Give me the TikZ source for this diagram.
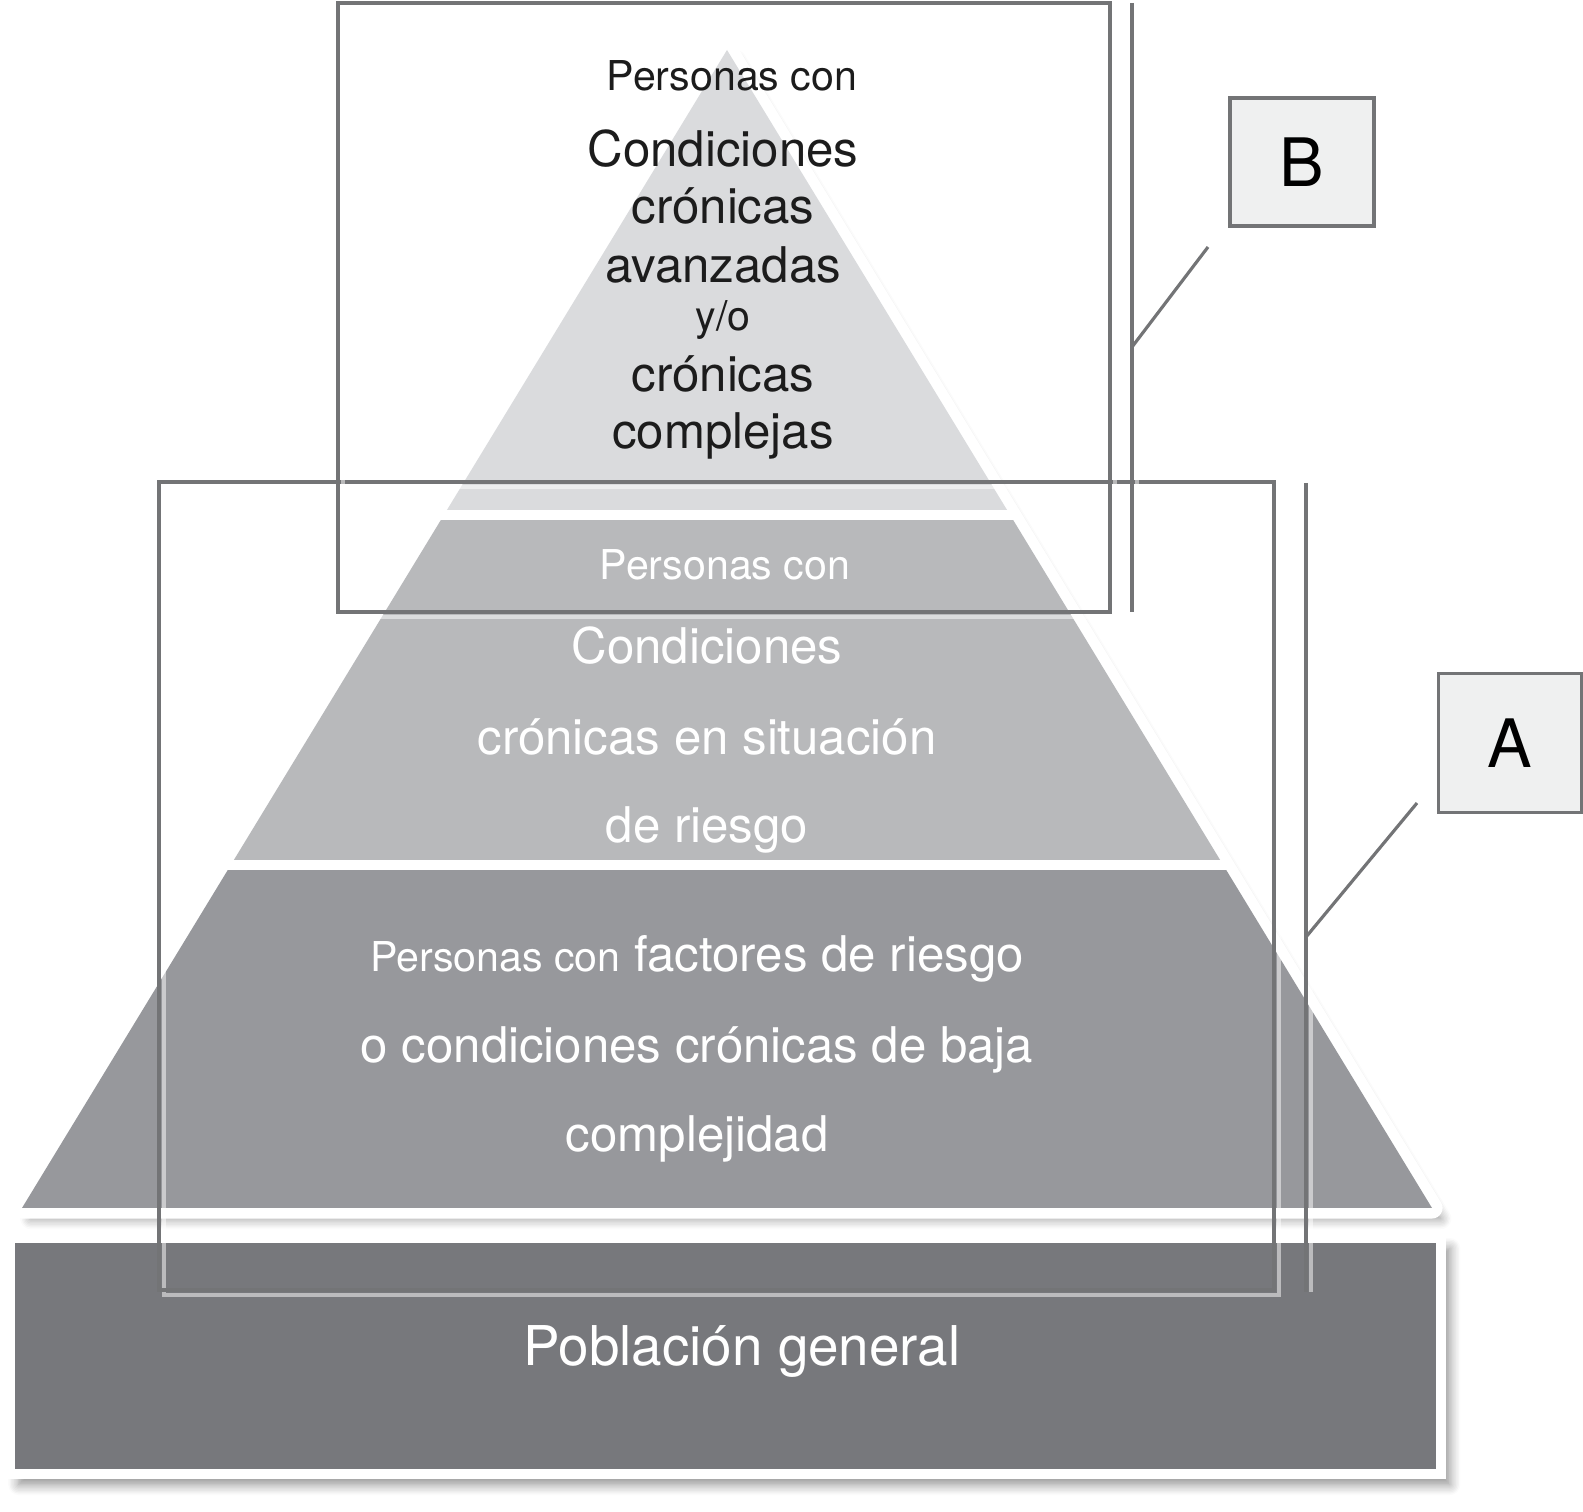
\documentclass[tikz,border=0pt]{standalone}
\usepackage{fontspec}
\setmainfont{TeX Gyre Heros}
\usetikzlibrary{shadows.blur}
\definecolor{layertop}{HTML}{DADBDD}
\definecolor{layermid}{HTML}{B8B9BB}
\definecolor{layerlow}{HTML}{97989C}
\definecolor{layerbase}{HTML}{77787C}
\definecolor{framegray}{HTML}{737476}
\definecolor{tagfill}{HTML}{EFF0F0}
\definecolor{inkdark}{HTML}{1C1C1C}

\begin{document}
\begin{tikzpicture}[x=0.1mm, y=-0.1mm,
  frameline/.style={draw=framegray, line width=1.1pt},
  glowline/.style={draw=white, draw opacity=0.5, line width=1.3pt},
  linkline/.style={draw=framegray, line width=0.9pt},
  softshadow/.style={blur shadow={shadow xshift=2.5pt, shadow yshift=-3pt, shadow opacity=45, shadow blur radius=3pt, shadow blur steps=8}},
  tagbox/.style={draw=framegray, line width=1.1pt, fill=tagfill, inner sep=0pt, font=\fontsize{19}{22}\selectfont},
  bigtxt/.style={anchor=base, font=\fontsize{14}{16}\selectfont},
  smalltxt/.style={anchor=base, font=\fontsize{11.7}{14}\selectfont}]
\useasboundingbox (0,0) rectangle (1583,1512);
% pyramid outline
\path[fill=white, draw=white, line width=6pt, line join=round, softshadow]
  (727,50) -- (1432,1208) -- (22,1208) -- cycle;
% pyramid layers
\begin{scope}
\clip (727,50) -- (1432,1208) -- (22,1208) -- cycle;
\fill[layertop] (0,0) rectangle (1583,510);
\fill[layermid] (0,520) rectangle (1583,860);
\fill[layerlow] (0,870) rectangle (1583,1208);
\end{scope}
% base
\path[fill=layerbase, draw=white, line width=3.1pt, softshadow] (10,1238) rectangle (1441,1474);
% top layer text
\node[smalltxt, text=inkdark] (topintro) at (732,91) {Personas con};
\foreach \yy/\txt in {167/Condiciones, 224/crónicas, 283/avanzadas, 392/crónicas, 449/complejas}
  \node[bigtxt, text=inkdark] (top\yy) at (723,\yy) {\txt};
\node[smalltxt, text=inkdark] (topor) at (723,331) {y/o};
% middle layer text
\node[smalltxt, text=white] (midintro) at (725,580) {Personas con};
\foreach \yy/\txt in {664/Condiciones, 755/crónicas en situación, 843/de riesgo}
  \node[bigtxt, text=white] (mid\yy) at (707,\yy) {\txt};
% lower layer text
\node[bigtxt, text=white] (low971) at (697,971) {{\fontsize{11.7}{14}\selectfont Personas con} factores de riesgo};
\node[bigtxt, text=white] (low1062) at (697,1062) {o condiciones crónicas de baja};
\node[bigtxt, text=white] (low1151) at (697,1151) {complejidad};
% base text
\node[anchor=base, text=white, font=\fontsize{15.6}{18}\selectfont] (basetxt) at (742,1365) {Población general};
% frame A
\draw[glowline, shift={(5,5)}] (159,482) rectangle (1274,1290);
\draw[frameline] (159,482) rectangle (1274,1290);
% frame B
\draw[glowline, shift={(5,5)}] (338,3) rectangle (1110,612);
\draw[frameline] (338,3) rectangle (1110,612);
% brackets
\draw[glowline, shift={(5,0)}] (1132,3) -- (1132,612);
\draw[frameline] (1132,3) -- (1132,612);
\draw[glowline, shift={(5,0)}] (1306,483) -- (1306,1292);
\draw[frameline] (1306,483) -- (1306,1292);
% tags
\node[tagbox, minimum width=14.4mm, minimum height=12.8mm] (tagB) at (1302,162) {B};
\node[tagbox, minimum width=14.3mm, minimum height=13.9mm] (tagA) at (1510,743) {A};
\coordinate (Bjoin) at (1132,347);
\coordinate (Bend) at (1208,247);
\coordinate (Ajoin) at (1306,937);
\coordinate (Aend) at (1417,803);
\draw[linkline] (Bjoin) -- (Bend);
\draw[linkline] (Ajoin) -- (Aend);
\end{tikzpicture}
\end{document}
